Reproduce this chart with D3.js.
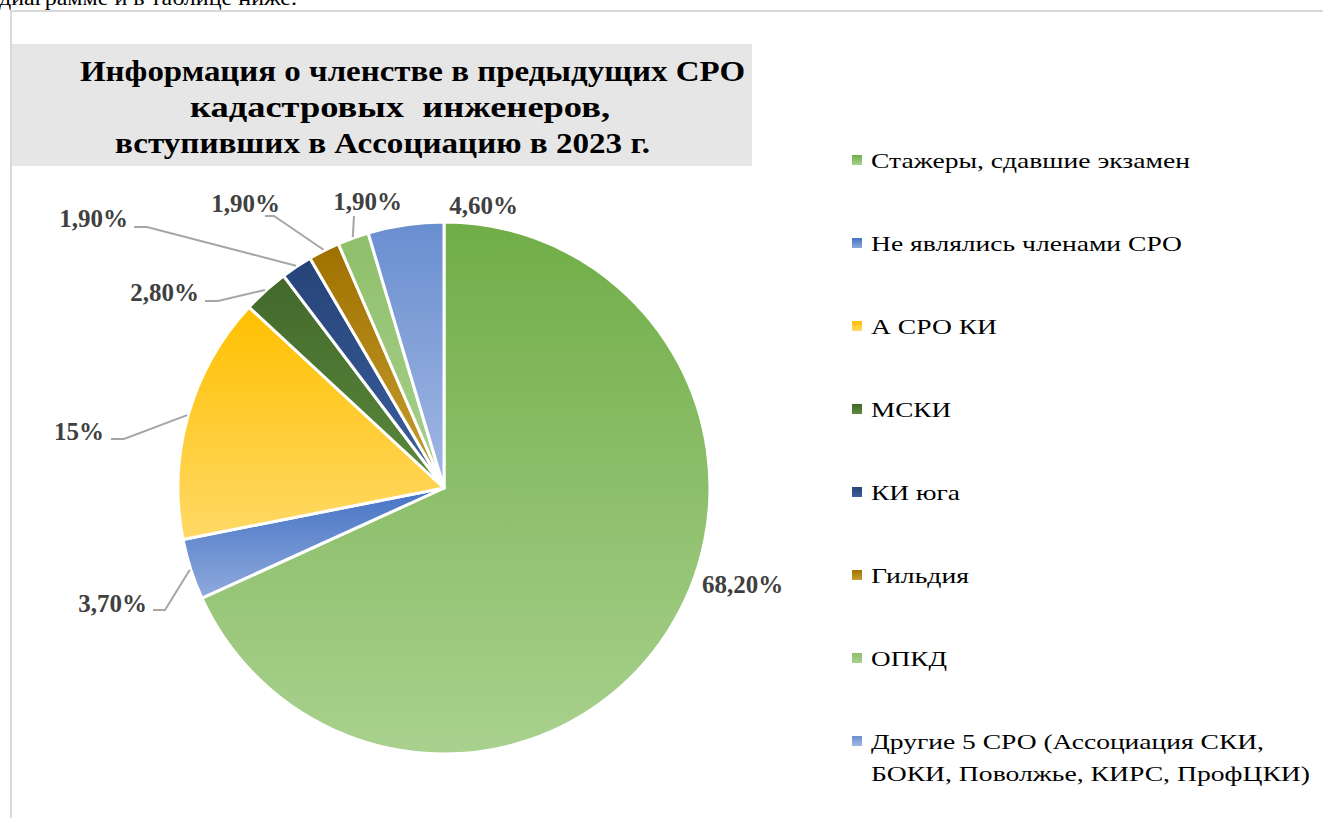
<!DOCTYPE html>
<html>
<head>
<meta charset="utf-8">
<script src="https://cdn.jsdelivr.net/npm/d3@7"></script>
<style>
  html, body { margin: 0; padding: 0; background: #fff; }
  svg { display: block; }
  text { font-family: "Liberation Serif", "DejaVu Serif", serif; }
</style>
</head>
<body>
<div id="chart"></div>
<script>
// chart data
var categories = [
    "Стажеры, сдавшие экзамен",
    "Не являлись членами СРО",
    "А СРО КИ",
    "МСКИ",
    "КИ юга",
    "Гильдия",
    "ОПКД",
    "Другие 5 СРО (Ассоциация СКИ, БОКИ, Поволжье, КИРС, ПрофЦКИ)"
];
var shares = [68.2, 3.7, 15, 2.8, 1.9, 1.9, 1.9, 4.6];
var shareLabels = ["68,20%", "3,70%", "15%", "2,80%", "1,90%", "1,90%", "1,90%", "4,60%"];
var titleLines = [
    "Информация о членстве в предыдущих СРО",
    "кадастровых  инженеров,",
    "вступивших в Ассоциацию в 2023 г."
];

// slice colours: [top, bottom] of the gradient
var colors = [
    ["#70ad47", "#a9d18e"],
    ["#4472c4", "#8faadc"],
    ["#ffc000", "#ffd966"],
    ["#43682b", "#5b8a3c"],
    ["#264478", "#3b5e9e"],
    ["#9e7000", "#c8a030"],
    ["#8ebf6a", "#a9d18e"],
    ["#698ed0", "#a3b8e3"]
];

// canvas
var svgWidth = 1323;
var svgHeight = 818;

var svg = d3.select("#chart")
    .append("svg")
    .attr("width", svgWidth)
    .attr("height", svgHeight);

var defs = svg.append("defs");
colors.forEach(function(c, i) {
    var g = defs.append("linearGradient")
        .attr("id", "grad" + i)
        .attr("x1", 0).attr("y1", 0)
        .attr("x2", 0).attr("y2", 1);
    g.append("stop").attr("offset", "0%").attr("stop-color", c[0]);
    g.append("stop").attr("offset", "100%").attr("stop-color", c[1]);
});

// text of the page above the chart (cut off in the screenshot)
svg.append("text")
    .attr("x", -1)
    .attr("y", 5)
    .attr("font-size", 22)
    .attr("textLength", 298)
    .attr("lengthAdjust", "spacingAndGlyphs")
    .attr("fill", "#000")
    .text("диаграмме и в таблице ниже.");

// chart frame
svg.append("path")
    .attr("d", "M11,820 V11 H1330")
    .attr("fill", "none")
    .attr("stroke", "#d9d9d9")
    .attr("stroke-width", 2);

// title box
svg.append("rect")
    .attr("x", 12).attr("y", 44)
    .attr("width", 740).attr("height", 122)
    .attr("fill", "#e7e6e6");

var titleX = [80, 190, 115];
var titleW = [665, 420, 535];
svg.append("g").selectAll("text")
    .data(titleLines)
    .join("text")
    .attr("x", (d, i) => titleX[i])
    .attr("y", (d, i) => 81 + i * 36)
    .attr("textLength", (d, i) => titleW[i])
    .attr("lengthAdjust", "spacingAndGlyphs")
    .attr("font-weight", "bold")
    .attr("font-size", 30)
    .attr("fill", "#000")
    .attr("xml:space", "preserve")
    .text(d => d);

// pie
var cx = 444, cy = 488, radius = 266;
var pieGroup = svg.append("g")
    .attr("transform", `translate(${cx}, ${cy})`);

var pie = d3.pie().sort(null).value(d => d);
var arcs = pie(shares);
var arc = d3.arc().innerRadius(0).outerRadius(radius);

pieGroup.selectAll("path.slice")
    .data(arcs)
    .join("path")
    .attr("class", "slice")
    .attr("d", arc)
    .attr("fill", (d, i) => `url(#grad${i})`)
    .attr("stroke", "#fff")
    .attr("stroke-width", 3)
    .attr("stroke-linejoin", "round");

// label placement (page coords): text point, anchor, leader bend / end
var labelLayout = [
    { x: 702, y: 593, anchor: "start", leader: null },
    { x: 147, y: 612, anchor: "end", leader: [[165, 610], [153, 610]] },
    { x: 104, y: 440, anchor: "end", leader: [[124, 439], [111, 439]] },
    { x: 199, y: 301, anchor: "end", leader: [[218, 301], [205, 301]] },
    { x: 128, y: 227, anchor: "end", leader: [[147, 227], [134, 227]] },
    { x: 280, y: 212, anchor: "end", leader: [[274, 216], [265, 216]] },
    { x: 402, y: 210, anchor: "end", leader: [[354, 216], [354, 216]] },
    { x: 518, y: 214, anchor: "end", leader: null }
];

var leaderLine = d3.line();
arcs.forEach(function(d, i) {
    var L = labelLayout[i];
    if (!L.leader) return;
    var mid = (d.startAngle + d.endAngle) / 2;
    var p0 = [cx + Math.sin(mid) * (radius + 1), cy - Math.cos(mid) * (radius + 1)];
    svg.append("path")
        .attr("d", leaderLine([p0, L.leader[0], L.leader[1]]))
        .attr("fill", "none")
        .attr("stroke", "#a6a6a6")
        .attr("stroke-width", 2);
});

svg.append("g").selectAll("text")
    .data(arcs)
    .join("text")
    .attr("x", (d, i) => labelLayout[i].x)
    .attr("y", (d, i) => labelLayout[i].y)
    .attr("text-anchor", (d, i) => labelLayout[i].anchor)
    .attr("font-weight", "bold")
    .attr("font-size", 25)
    .attr("fill", "#404040")
    .text((d, i) => shareLabels[i]);

// legend
var legendX = 852, legendTop = 160, legendStep = 83;
var legendLines = categories.map(d => d.indexOf("(") > 0
    ? ["Другие 5 СРО (Ассоциация СКИ,", "БОКИ, Поволжье, КИРС, ПрофЦКИ)"]
    : [d]);
var legendWidths = [[319], [311], [126], [80], [89], [98], [76], [393, 439]];

var legend = svg.append("g");
var legendRows = legend.selectAll("g")
    .data(categories)
    .join("g")
    .attr("transform", (d, i) => `translate(${legendX}, ${legendTop + i * legendStep})`);

legendRows.append("rect")
    .attr("x", 0).attr("y", -5)
    .attr("width", 10).attr("height", 10)
    .attr("fill", (d, i) => `url(#grad${i})`);

legendRows.each(function(d, i) {
    var row = d3.select(this);
    legendLines[i].forEach(function(p, j) {
        row.append("text")
            .attr("x", 19)
            .attr("y", 8 + j * 32)
            .attr("font-size", 22)
            .attr("fill", "#000")
            .attr("textLength", legendWidths[i][j])
            .attr("lengthAdjust", "spacingAndGlyphs")
            .text(p);
    });
});
</script>
</body>
</html>
